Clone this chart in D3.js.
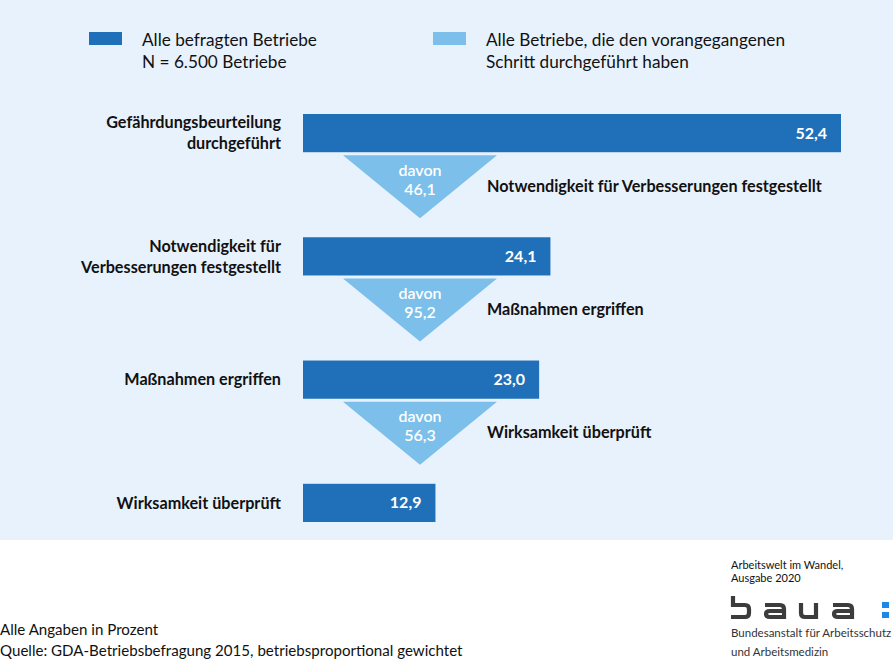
<!DOCTYPE html>
<html><head><meta charset="utf-8">
<script src="https://cdn.jsdelivr.net/npm/d3@7"></script>
<style>body{margin:0;background:#fff;} svg{display:block;font-family:Lato, "Open Sans", sans-serif;}</style>
</head><body>
<script>
// ---- data ----
const steps = ["Gefährdungsbeurteilung durchgeführt", "Notwendigkeit für Verbesserungen festgestellt", "Maßnahmen ergriffen", "Wirksamkeit überprüft"];
const stepLabelLines = [["Gefährdungsbeurteilung", "durchgeführt"], ["Notwendigkeit für", "Verbesserungen festgestellt"], ["Maßnahmen ergriffen"], ["Wirksamkeit überprüft"]];
const allShare = [52.4, 24.1, 23.0, 12.9];
const conditionalShare = [46.1, 95.2, 56.3];
const conditionalWord = "davon";
const legendLabels = [["Alle befragten Betriebe", "N = 6.500 Betriebe"], ["Alle Betriebe, die den vorangegangenen", "Schritt durchgeführt haben"]];
const footnotes = ["Alle Angaben in Prozent", "Quelle: GDA-Betriebsbefragung 2015, betriebsproportional gewichtet"];
const publication = ["Arbeitswelt im Wandel,", "Ausgabe 2020"];
const institution = ["Bundesanstalt für Arbeitsschutz", "und Arbeitsmedizin"];

// ---- style ----
const W = 893, H = 663;
const darkBlue = "#1f70b8", lightBlue = "#7bbfea", bg = "#e8f2fc", ink = "#111";
const fmt = d3.formatLocale({decimal: ",", thousands: ".", grouping: [3], currency: ["", "€"]}).format(".1f");

const svg = d3.select("body").append("svg").attr("width", W).attr("height", H);
svg.append("rect").attr("width", W).attr("height", 540).attr("fill", bg);

const x = d3.scaleLinear().domain([0, 52.4]).range([303, 841]);
const y = d3.scaleBand().domain(steps).range([114, 522]).paddingInner(0.69).paddingOuter(0);
const bw = y.bandwidth();

// legend
const legend = svg.append("g");
[[89, darkBlue, 142], [433, lightBlue, 486]].forEach(([sx, c, tx], i) => {
  legend.append("rect").attr("x", sx).attr("y", 32).attr("width", 33).attr("height", 13).attr("fill", c);
  legendLabels[i].forEach((t, j) => legend.append("text").attr("x", tx).attr("y", 40 + j * 22)
    .attr("dy", "0.35em").attr("font-size", 17.2).attr("fill", ink).text(t));
});

// bars
svg.append("g").selectAll("rect").data(steps).join("rect")
  .attr("x", x(0)).attr("y", d => y(d)).attr("width", (d, i) => x(allShare[i]) - x(0)).attr("height", bw)
  .attr("fill", darkBlue);
svg.append("g").selectAll("text").data(steps).join("text")
  .attr("x", (d, i) => x(allShare[i]) - 14).attr("y", d => y(d) + bw / 2).attr("dy", "0.35em")
  .attr("text-anchor", "end").attr("font-size", 16).attr("font-weight", 700).attr("fill", "#fff")
  .text((d, i) => fmt(allShare[i]));

// left labels
steps.forEach((s, i) => {
  const lines = stepLabelLines[i];
  const lh = 21;
  lines.forEach((t, j) => svg.append("text").attr("x", 281)
    .attr("y", y(s) + bw / 2 + (j - (lines.length - 1) / 2) * lh).attr("dy", "0.35em")
    .attr("text-anchor", "end").attr("font-size", 16.2).attr("font-weight", 700).attr("fill", ink).text(t));
});

// triangles
const triCx = x(0) + 117, triHalf = 77, triH = 63;
conditionalShare.forEach((v, i) => {
  const top = y(steps[i]) + bw + 3;
  svg.append("path").attr("d", `M${triCx - triHalf},${top}L${triCx + triHalf},${top}L${triCx},${top + triH}Z`).attr("fill", lightBlue);
  svg.append("text").attr("x", triCx).attr("y", top + 15).attr("dy", "0.35em").attr("text-anchor", "middle")
    .attr("font-size", 16).attr("font-weight", 600).attr("fill", "#fff").text(conditionalWord);
  svg.append("text").attr("x", triCx).attr("y", top + 34).attr("dy", "0.35em").attr("text-anchor", "middle")
    .attr("font-size", 16).attr("font-weight", 600).attr("fill", "#fff").text(fmt(v));
  svg.append("text").attr("x", 487).attr("y", top + 31).attr("dy", "0.35em")
    .attr("font-size", 16.2).attr("font-weight", 700).attr("fill", ink).text(steps[i + 1]);
});

// footnotes
footnotes.forEach((t, j) => svg.append("text").attr("x", 0).attr("y", 630 + j * 21).attr("dy", "0.35em")
  .attr("font-size", 15.1).attr("fill", ink).text(t));

// publication / logo
publication.forEach((t, j) => svg.append("text").attr("x", 731).attr("y", 565 + j * 13).attr("dy", "0.35em")
  .attr("font-size", 11).attr("fill", ink).text(t));
institution.forEach((t, j) => svg.append("text").attr("x", 731).attr("y", 633 + j * 19).attr("dy", "0.35em")
  .attr("font-size", 11.5).attr("fill", "#333").text(t));
const logo = svg.append("g").attr("fill", "none").attr("stroke", "#3c3c3c").attr("stroke-width", 4.2);
logo.append("path").attr("d", "M733,596V605H745Q749,605 749,609V613Q749,617 745,617H731");
logo.append("path").attr("d", "M765,605H780Q784,605 784,609V617H770Q766,617 766,614V614Q766,611 770,611H784");
logo.append("path").attr("d", "M801,603V613Q801,617 805,617H816V603");
logo.append("path").attr("d", "M833,605H848Q852,605 852,609V617H838Q834,617 834,614V614Q834,611 838,611H852");
svg.append("rect").attr("x", 882).attr("y", 602).attr("width", 7).attr("height", 6).attr("fill", "#1e88e5");
svg.append("rect").attr("x", 882).attr("y", 612).attr("width", 7).attr("height", 6).attr("fill", "#1e88e5");
</script>
</body></html>
